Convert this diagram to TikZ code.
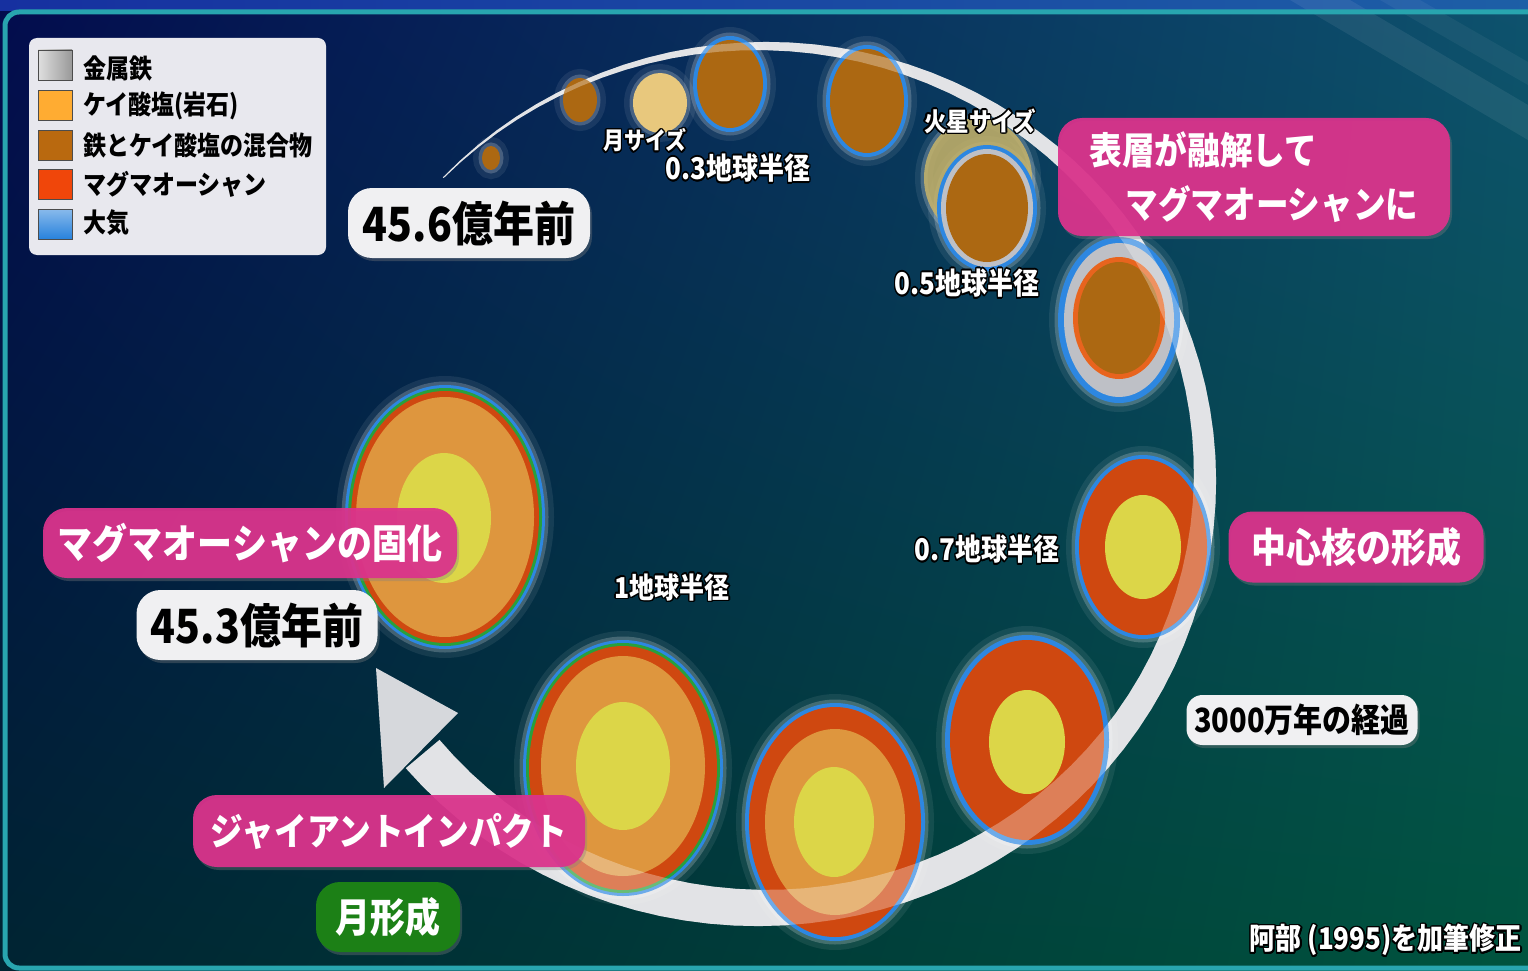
\documentclass[tikz,border=0pt]{standalone}
\usepackage{fontspec}
\setmainfont{Noto Sans CJK JP}
\usepackage{graphicx}
\usepackage{contour}
\contourlength{1.4pt}
\usetikzlibrary{shadows,shadings}

\definecolor{bgnavy}{RGB}{3,12,78}
\definecolor{bgteal}{RGB}{14,82,110}
\definecolor{bgdeep}{RGB}{0,36,50}
\definecolor{bggreen}{RGB}{0,84,62}
\definecolor{bandblue}{RGB}{22,48,160}
\definecolor{frameteal}{RGB}{40,165,175}
\definecolor{ringgrey}{RGB}{214,216,220}
\definecolor{airblue}{RGB}{45,135,225}
\definecolor{mixbrown}{RGB}{172,104,18}
\definecolor{magma}{RGB}{207,72,16}
\definecolor{meltorange}{RGB}{232,100,30}
\definecolor{silicate}{RGB}{222,150,62}
\definecolor{corey}{RGB}{220,214,72}
\definecolor{moonpale}{RGB}{232,200,125}
\definecolor{marspale}{RGB}{200,180,105}
\definecolor{crustgreen}{RGB}{40,160,60}
\definecolor{gapgrey}{RGB}{190,192,198}
\definecolor{tagpink}{RGB}{220,50,140}
\definecolor{taggreen}{RGB}{28,128,22}
\definecolor{tagwhite}{RGB}{240,240,242}
\definecolor{keygrey}{RGB}{232,232,238}
\definecolor{keyorange}{RGB}{255,172,50}
\definecolor{keybrown}{RGB}{185,105,15}
\definecolor{keymagma}{RGB}{240,70,10}
\definecolor{keyblue}{RGB}{40,130,220}

% taller glyphs, as in the slide
\newcommand{\tall}[1]{\scalebox{1}[1.15]{#1}}
% tapering orbit band, thin at the start and wide at the arrow
\newcommand{\orbitband}{plot[domain=224:500,samples=90] ({762+(443.5+21.5*(\x-224)/276)*cos(\x)},{477+(431.5+21.5*(\x-224)/276)*sin(\x)}) -- plot[domain=500:224,samples=90] ({762+(442.5-21.5*(\x-224)/276)*cos(\x)},{477+(430.5-21.5*(\x-224)/276)*sin(\x)}) -- cycle}

\tikzset{
  tagbox/.style={rounded corners=24pt, inner sep=0pt, font=\bfseries\fontsize{35}{40}\selectfont,
    drop shadow={opacity=0.35, shadow xshift=2pt, shadow yshift=-3pt}},
  pinktag/.style={tagbox, fill=tagpink, fill opacity=0.93, text opacity=1, text=white},
  agetag/.style={tagbox, fill=tagwhite, text=black},
  sizelabel/.style={inner sep=0pt, text=white, font=\bfseries\fontsize{26}{28}\selectfont},
  keybox/.style={draw=black!70, minimum width=34pt, minimum height=30pt, inner sep=0pt},
  keytext/.style={anchor=west, inner sep=0pt, text=black, font=\bfseries\fontsize{23}{26}\selectfont}
}

\begin{document}
\begin{tikzpicture}[x=1pt,y=-1pt]
\useasboundingbox (0,0) rectangle (1528,971);
% background and frame
\shade[upper left=bgnavy, upper right=bgteal, lower left=bgdeep, lower right=bggreen] (0,0) rectangle (1528,971);
\shade[left color=bandblue, right color=bandblue!60!frameteal] (0,0) rectangle (1528,11);
\fill[white, opacity=0.07] (1290,0) -- (1350,0) -- (1528,105) -- (1528,140) -- cycle;
\fill[white, opacity=0.05] (1380,0) -- (1420,0) -- (1528,62) -- (1528,85) -- cycle;
\draw[frameteal, line width=5pt, rounded corners=14pt] (1530,12) -- (5,12) -- (5,968) -- (1530,968);

% orbit band and arrow head
\fill[ringgrey] \orbitband;
\coordinate (tip) at (376,668);
\fill[ringgrey] (tip) -- (458,713) -- (384,788) -- cycle;

% soft halo round every body
\foreach \cx/\cy/\rx/\ry in {491/158/9/12, 580/100/17/22, 660/103/27/30, 730/84/37/48, 867/101/41/56,
    978/178/54/60, 987/208/50/63, 1119/320/61/83, 1143/547/68/92, 1027/740/82/105,
    835/822/90/119, 623/768/100/128, 445/517/100/132}
{
  \draw[white, opacity=0.08, line width=18pt] (\cx,\cy) ellipse [x radius=\rx, y radius=\ry];
  \draw[white, opacity=0.2, line width=7pt] (\cx,\cy) ellipse [x radius=\rx, y radius=\ry];
}

% growing bodies
\fill[mixbrown] (491,158) ellipse [x radius=9, y radius=12];
\fill[mixbrown] (580,100) ellipse [x radius=17, y radius=22];
\fill[moonpale] (660,103) ellipse [x radius=27, y radius=30];
\fill[airblue] (730,84) ellipse [x radius=37, y radius=48];
\fill[mixbrown] (730,84) ellipse [x radius=33, y radius=44];
\fill[airblue] (867,101) ellipse [x radius=41, y radius=56];
\fill[mixbrown] (867,101) ellipse [x radius=37, y radius=52];
\fill[marspale, opacity=0.85] (978,178) ellipse [x radius=54, y radius=60];
\fill[airblue] (987,208) ellipse [x radius=50, y radius=63];
\fill[gapgrey] (987,208) ellipse [x radius=46, y radius=59];
\fill[mixbrown] (987,208) ellipse [x radius=41, y radius=54];
% surface melting
\fill[airblue] (1119,320) ellipse [x radius=61, y radius=83];
\fill[gapgrey] (1119,320) ellipse [x radius=55, y radius=77];
\fill[meltorange] (1119,318) ellipse [x radius=46, y radius=61];
\fill[mixbrown] (1119,318) ellipse [x radius=41, y radius=56];
% core formation
\fill[airblue] (1143,547) ellipse [x radius=68, y radius=92];
\fill[magma] (1143,547) ellipse [x radius=64, y radius=88];
\fill[corey] (1143,547) ellipse [x radius=38, y radius=52];
\fill[airblue] (1027,740) ellipse [x radius=82, y radius=105];
\fill[magma] (1027,740) ellipse [x radius=77, y radius=100];
\fill[corey] (1027,742) ellipse [x radius=38, y radius=52];
\fill[airblue] (835,822) ellipse [x radius=90, y radius=119];
\fill[magma] (835,822) ellipse [x radius=86, y radius=115];
\fill[silicate] (835,822) ellipse [x radius=70, y radius=93];
\fill[corey] (834,822) ellipse [x radius=40, y radius=55];
\fill[airblue] (623,768) ellipse [x radius=100, y radius=128];
\fill[crustgreen] (623,768) ellipse [x radius=97, y radius=125];
\fill[magma] (623,768) ellipse [x radius=94, y radius=122];
\fill[silicate] (623,766) ellipse [x radius=82, y radius=110];
\fill[corey] (623,766) ellipse [x radius=47, y radius=64];
% solidified
\fill[airblue] (445,517) ellipse [x radius=100, y radius=132];
\fill[crustgreen] (445,517) ellipse [x radius=97, y radius=129];
\fill[magma] (445,517) ellipse [x radius=94, y radius=126];
\fill[silicate] (445,517) ellipse [x radius=89, y radius=120];
\fill[corey] (444,518) ellipse [x radius=47, y radius=65];

% band shows through where it crosses the bodies
\fill[white, opacity=0.3] \orbitband;

% legend
\fill[keygrey, rounded corners=8pt] (29,38) rectangle (326,255);
\node[keybox, left color=gray!25, right color=gray!80] (keyiron) at (55,65) {};
\node[keybox, fill=keyorange] (keyrock) at (55,105) {};
\node[keybox, fill=keybrown] (keymix) at (55,145) {};
\node[keybox, fill=keymagma] (keyocean) at (55,184) {};
\node[keybox, top color=keyblue!55!white, bottom color=keyblue] (keyair) at (55,224) {};
\node[keytext] (txtiron) at (83,68) {\tall{金属鉄}};
\node[keytext] (txtrock) at (83,106) {\tall{ケイ酸塩(岩石)}};
\node[keytext] (txtmix) at (83,145) {\tall{鉄とケイ酸塩の混合物}};
\node[keytext] (txtocean) at (83,184) {\tall{マグマオーシャン}};
\node[keytext] (txtair) at (83,223) {\tall{大気}};

% ages and stages
\node[agetag, minimum width=242pt, minimum height=70pt, font=\bfseries\fontsize{41}{44}\selectfont] (agestart) at (469,223) {\tall{45.6億年前}};
\node[pinktag, minimum width=392pt, minimum height=118pt, align=left, font=\bfseries\fontsize{32.6}{54}\selectfont] (melt) at (1254,177)
  {\tall{表層が融解して}\\\hspace{36pt}\tall{マグマオーシャンに}};
\node[pinktag, minimum width=255pt, minimum height=71pt] (core) at (1356,547) {\tall{中心核の形成}};
\node[agetag, minimum width=231pt, minimum height=50pt, rounded corners=16pt, font=\bfseries\fontsize{29}{32}\selectfont] (span) at (1302,720) {\tall{3000万年の経過}};
\node[pinktag, minimum width=414pt, minimum height=70pt] (solid) at (250,543) {\tall{マグマオーシャンの固化}};
\node[agetag, minimum width=241pt, minimum height=70pt, font=\bfseries\fontsize{41}{44}\selectfont] (ageend) at (257,625) {\tall{45.3億年前}};
\node[pinktag, minimum width=392pt, minimum height=72pt, font=\bfseries\fontsize{32.7}{38}\selectfont] (impact) at (389,831) {\tall{ジャイアントインパクト}};
\node[tagbox, fill=taggreen, text=white, minimum width=144pt, minimum height=70pt] (moon) at (388,917) {\tall{月形成}};

% size labels
\node[sizelabel, font=\bfseries\fontsize{21}{24}\selectfont] (moonsize) at (645,141) {\tall{\contour{black}{月サイズ}}};
\node[sizelabel] (r03) at (738,169) {\tall{\contour{black}{0.3地球半径}}};
\node[sizelabel, font=\bfseries\fontsize{22.5}{25}\selectfont] (marssize) at (980,122) {\tall{\contour{black}{火星サイズ}}};
\node[sizelabel] (r05) at (967,284) {\tall{\contour{black}{0.5地球半径}}};
\node[sizelabel] (r07) at (987,550) {\tall{\contour{black}{0.7地球半径}}};
\node[sizelabel, font=\bfseries\fontsize{25}{28}\selectfont] (r10) at (672,588) {\tall{\contour{black}{1地球半径}}};
\node[sizelabel, anchor=east] (source) at (1522,941) {\tall{\contour{black}{阿部 (1995)を加筆修正}}};
\end{tikzpicture}
\end{document}
